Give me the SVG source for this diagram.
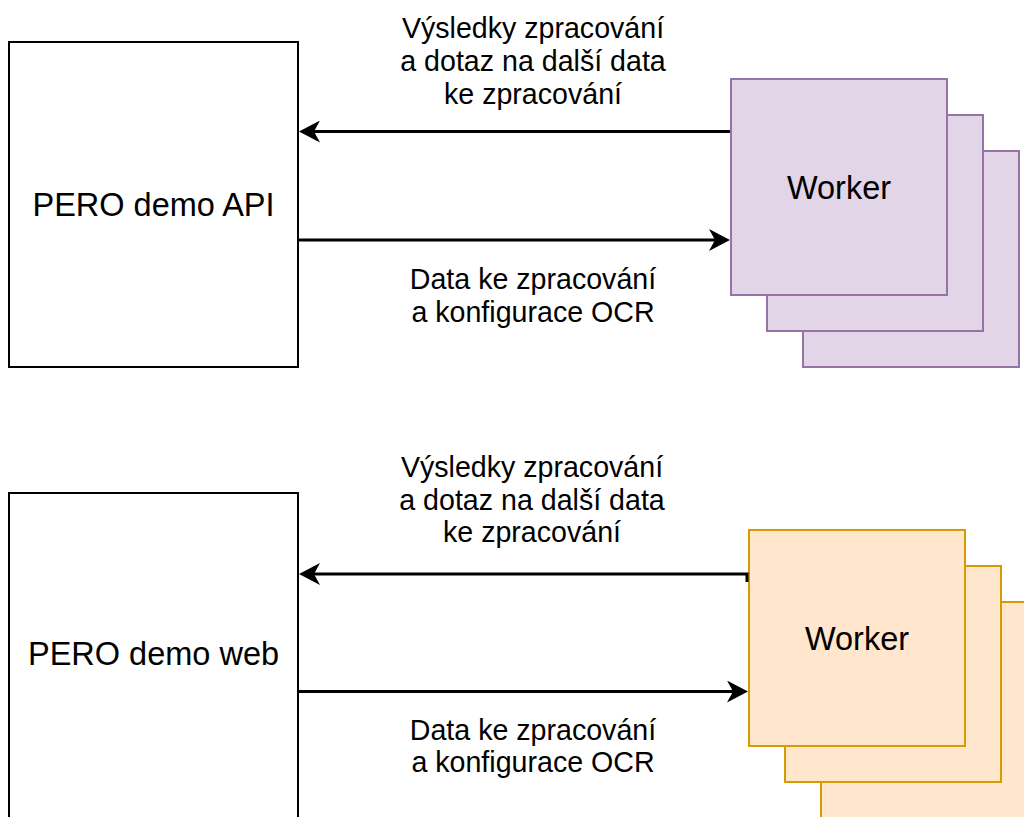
<svg xmlns="http://www.w3.org/2000/svg" width="1024" height="817" viewBox="0 0 1024 817">
<style>
.box{fill:#ffffff;stroke:#000000;stroke-width:2}
.wp{fill:#e1d5e7;stroke:#9673a6;stroke-width:2}
.wo{fill:#ffe6cc;stroke:#d79b00;stroke-width:2}
.lbl{font-family:"Liberation Sans",Arial,sans-serif;font-size:32.5px;fill:#000;text-anchor:middle}
.el{font-family:"Liberation Sans",Arial,sans-serif;font-size:28.6px;fill:#000;text-anchor:middle}
.edge{fill:none;stroke:#000;stroke-width:3}
</style>
<defs>
<marker id="arr" viewBox="0 0 22 22" refX="6" refY="11" markerWidth="22" markerHeight="22" orient="auto" markerUnits="userSpaceOnUse">
<path d="M0,0 L21,11 L0,22 L6,11 Z" fill="#000"/>
</marker>
</defs>
<rect width="1024" height="817" fill="#fff"/>
<g id="api">
<rect class="box" x="9" y="42" width="289" height="325"/>
<text class="lbl" x="153.5" y="215.5">PERO demo API</text>
</g>
<g id="worker-top">
<rect class="wp" x="803" y="151" width="216" height="216"/>
<rect class="wp" x="767" y="115" width="216" height="216"/>
<rect class="wp" x="731" y="79" width="216" height="216"/>
<text class="lbl" x="839" y="198.5">Worker</text>
</g>
<g id="web">
<rect class="box" x="9" y="493" width="289" height="325"/>
<text class="lbl" x="153.5" y="665">PERO demo web</text>
</g>
<g id="worker-bottom">
<rect class="wo" x="821" y="602" width="216" height="216"/>
<rect class="wo" x="785" y="566" width="216" height="216"/>
<rect class="wo" x="749" y="530" width="216" height="216"/>
<text class="lbl" x="857" y="649.5">Worker</text>
</g>
<g id="connectors">
<path class="edge" d="M730,131.5 L314,131.5" marker-end="url(#arr)"/>
<path class="edge" d="M299,240 L715,240" marker-end="url(#arr)"/>
<path class="edge" d="M747,582 L747,574 L314,574" marker-end="url(#arr)"/>
<path class="edge" d="M299,691.5 L733,691.5" marker-end="url(#arr)"/>
</g>
<g id="labels">
<text class="el" x="533" y="37.5">Výsledky zpracování</text>
<text class="el" x="533" y="71">a dotaz na další data</text>
<text class="el" x="533" y="104">ke zpracování</text>
<text class="el" x="533" y="289">Data ke zpracování</text>
<text class="el" x="533" y="322">a konfigurace OCR</text>
<text class="el" x="532" y="476.5">Výsledky zpracování</text>
<text class="el" x="532" y="509.5">a dotaz na další data</text>
<text class="el" x="532" y="542">ke zpracování</text>
<text class="el" x="533" y="739.5">Data ke zpracování</text>
<text class="el" x="533" y="772">a konfigurace OCR</text>
</g>
</svg>
